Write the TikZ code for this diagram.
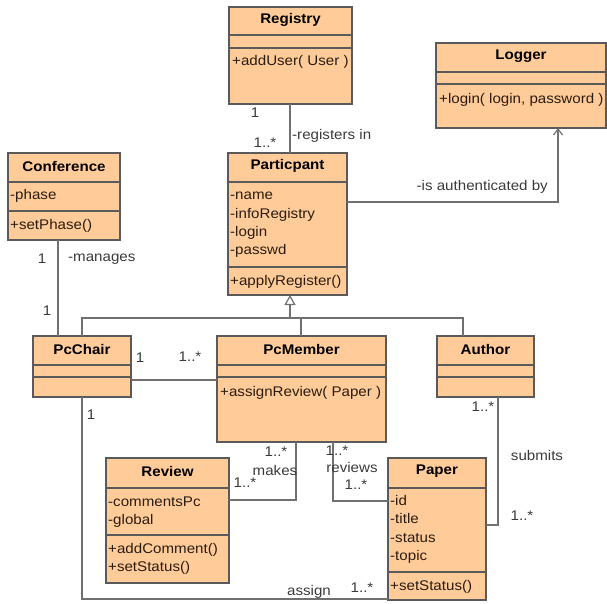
\documentclass[tikz,border=0pt]{standalone}
\usepackage{fontspec}
\setmainfont{Liberation Sans}[FakeStretch=1.08]
\usetikzlibrary{arrows.meta,fit}
\definecolor{clsfill}{HTML}{FFCC99}
\definecolor{clsline}{HTML}{5A5A5A}
\definecolor{connc}{HTML}{707070}
\definecolor{txt}{HTML}{2A1C10}
\definecolor{lbl}{HTML}{3A3A3A}
\begin{document}
\begin{tikzpicture}[x=1pt,y=-1pt,
 cls/.style={draw=clsline, fill=clsfill, line width=1.2pt, inner sep=0pt, outer sep=0pt},
 sepline/.style={draw=clsline, line width=1.1pt},
 ttl/.style={font=\fontsize{14}{18}\selectfont\bfseries, text=black, inner sep=0pt},
 mem/.style={font=\fontsize{14}{18}\selectfont, text=txt, inner sep=0pt, anchor=base west},
 lab/.style={font=\fontsize{14}{18}\selectfont, text=lbl, inner sep=0pt},
 conn/.style={draw=connc, line width=1.2pt}]
\useasboundingbox (0,0) rectangle (607,604);

% ---------- classes ----------
% Registry
\node[cls, fit={(229,7) (352,104)}] (reg) {};
\draw[sepline] (229,35) -- (352,35) (229,48) -- (352,48);
\node[ttl] (regT) at (290.5,20) {Registry};
\node[mem] (regM) at (232,66) {+addUser( User )};

% Logger
\node[cls, fit={(436,43) (606,128)}] (log) {};
\draw[sepline] (436,72) -- (606,72) (436,84) -- (606,84);
\node[ttl] (logT) at (521,56) {Logger};
\node[mem] (logM) at (439,104) {+login( login, password )};

% Conference
\node[cls, fit={(8,153) (120,240)}] (conf) {};
\draw[sepline] (8,182) -- (120,182) (8,211) -- (120,211);
\node[ttl] (confT) at (64,166) {Conference};
\node[mem] (confA) at (10,200) {-phase};
\node[mem] (confM) at (10,229) {+setPhase()};

% Particpant
\node[cls, fit={(228,153) (347,295)}] (part) {};
\draw[sepline] (228,182) -- (347,182) (228,267) -- (347,267);
\node[ttl] (partT) at (287.5,166) {Particpant};
\node[mem] (partA1) at (230,200) {-name};
\node[mem] (partA2) at (230,218) {-infoRegistry};
\node[mem] (partA3) at (230,236) {-login};
\node[mem] (partA4) at (230,254) {-passwd};
\node[mem] (partM) at (230,285) {+applyRegister()};

% PcChair
\node[cls, fit={(33,336) (131,397)}] (chair) {};
\draw[sepline] (33,365) -- (131,365) (33,377) -- (131,377);
\node[ttl] (chairT) at (82,349) {PcChair};

% PcMember
\node[cls, fit={(217,336) (386,442)}] (member) {};
\draw[sepline] (217,365) -- (386,365) (217,377) -- (386,377);
\node[ttl] (memberT) at (301.5,349) {PcMember};
\node[mem] (memberM) at (220,396) {+assignReview( Paper )};

% Author
\node[cls, fit={(437,336) (534,397)}] (author) {};
\draw[sepline] (437,365) -- (534,365) (437,377) -- (534,377);
\node[ttl] (authorT) at (485.5,349) {Author};

% Review
\node[cls, fit={(106,458) (229,583)}] (review) {};
\draw[sepline] (106,488) -- (229,488) (106,535) -- (229,535);
\node[ttl] (reviewT) at (167.5,471) {Review};
\node[mem] (reviewA1) at (108,506) {-commentsPc};
\node[mem] (reviewA2) at (108,524) {-global};
\node[mem] (reviewM1) at (108,553) {+addComment()};
\node[mem] (reviewM2) at (108,571) {+setStatus()};

% Paper
\node[cls, fit={(388,458) (486,600)}] (paper) {};
\draw[sepline] (388,488) -- (486,488) (388,572) -- (486,572);
\node[ttl] (paperT) at (437,471) {Paper};
\node[mem] (paperA1) at (390,505) {-id};
\node[mem] (paperA2) at (390,523) {-title};
\node[mem] (paperA3) at (390,542) {-status};
\node[mem] (paperA4) at (390,560) {-topic};
\node[mem] (paperM) at (390,590) {+setStatus()};

% ---------- connectors ----------
\draw[conn] (reg.south -| 290,0) -- (part.north -| 290,0);
\draw[conn,-{Straight Barb[length=6pt,width=9pt]}] (part.east |- 0,202) -| (log.south -| 558,0);
\draw[conn] (conf.south -| 58,0) -- (chair.north -| 58,0);
\coordinate (hub) at (290,318);
\draw[conn,-{Triangle[open,fill=white,length=10pt,width=11pt]}] (hub) -- (part.south -| 290,0);
\draw[conn] (chair.north -| 82,0) -- (82,318) -- (463,318) -- (author.north -| 463,0);
\draw[conn] (member.north -| 301,0) -- (301,318);
\draw[conn] (chair.east |- 0,380) -- (member.west |- 0,380);
\draw[conn] (member.south -| 296,0) |- (review.east |- 0,500);
\draw[conn] (member.south -| 333,0) |- (paper.west |- 0,501);
\draw[conn] (author.south -| 498,0) |- (paper.east |- 0,525);
\draw[conn] (chair.south -| 82,0) |- (paper.west |- 0,599);

% ---------- labels ----------
\node[lab] (l1) at (255,113) {1};
\node[lab] (l2) at (265,143) {1..*};
\node[lab, anchor=west] (l3) at (292,136) {-registers in};
\node[lab, anchor=east] (l4) at (548,187) {-is authenticated by};
\node[lab] (l5) at (42,259) {1};
\node[lab, anchor=west] (l6) at (68,259) {-manages};
\node[lab] (l7) at (47,311) {1};
\node[lab] (l8) at (140,358) {1};
\node[lab] (l9) at (190,357) {1..*};
\node[lab] (l10) at (91,415) {1};
\node[lab] (l11) at (276,452) {1..*};
\node[lab] (l12) at (275,470) {makes};
\node[lab] (l13) at (245,483) {1..*};
\node[lab] (l14) at (337,451) {1..*};
\node[lab] (l15) at (352,467) {reviews};
\node[lab] (l16) at (356,485) {1..*};
\node[lab] (l17) at (483,407) {1..*};
\node[lab] (l18) at (537,455) {submits};
\node[lab] (l19) at (522,516) {1..*};
\node[lab] (l20) at (309,592) {assign};
\node[lab] (l21) at (362,588) {1..*};
\end{tikzpicture}
\end{document}
